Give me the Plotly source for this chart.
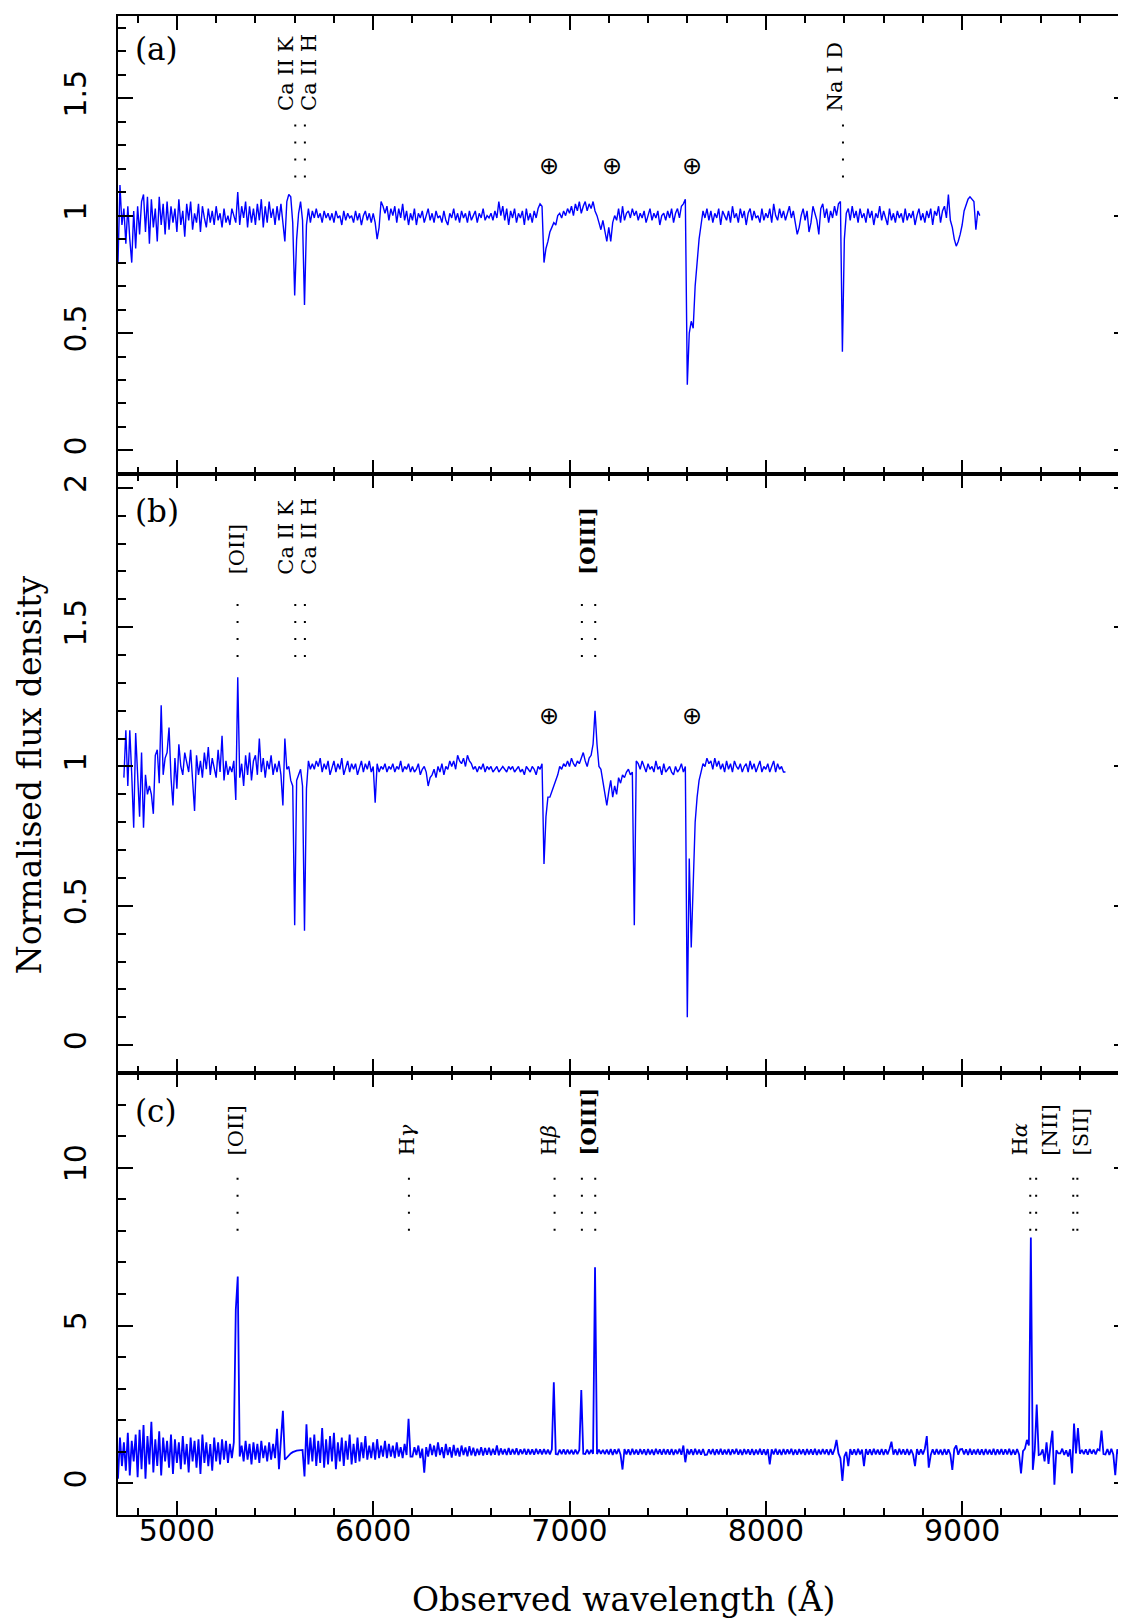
import numpy as np
import plotly.graph_objects as go

# ---------------- data ----------------
STEP = 10  # Angstrom sampling of the transcribed spectra

A_START = 4700
flux_a = [
    0.80, 1.13, 0.96, 1.03, 0.88, 1.04, 0.90, 0.80, 1.02, 0.86,
    1.04, 0.92, 1.06, 1.09, 0.93, 1.08, 0.88, 1.07, 0.95, 1.03,
    0.89, 1.08, 0.96, 1.05, 0.92, 1.06, 0.94, 1.04, 0.97, 1.03,
    0.93, 1.07, 0.96, 1.02, 0.91, 1.05, 0.98, 1.06, 0.94, 1.01,
    0.97, 1.05, 0.93, 1.04, 0.99, 0.95, 1.03, 0.97, 1.02, 0.96,
    1.04, 0.98, 1.01, 0.95, 1.03, 0.97, 1.00, 0.96, 1.03, 1.00,
    0.97, 1.10, 0.96, 1.04, 0.99, 1.06, 0.95, 1.04, 0.97, 1.03,
    0.96, 1.05, 0.98, 1.07, 0.95, 1.04, 0.97, 1.06, 0.99, 1.03,
    0.96, 1.04, 0.98, 1.05, 0.97, 0.89, 1.06, 1.09, 1.08, 0.97,
    0.66, 0.90, 1.01, 1.06, 0.98, 0.62, 0.96, 1.03, 0.97, 1.02,
    0.99, 1.03, 0.99, 1.01, 0.97, 1.02, 0.99, 1.01, 0.98, 1.01,
    0.97, 1.02, 0.99, 1.00, 0.96, 1.02, 0.98, 1.01, 0.99, 1.00,
    0.97, 1.02, 0.98, 1.01, 0.96, 1.00, 1.02, 0.98, 1.01, 0.97,
    1.01, 0.97, 0.90, 0.95, 1.06, 1.04, 1.01, 1.04, 0.98, 1.03,
    1.00, 1.04, 0.97, 1.03, 0.99, 1.05, 0.98, 1.02, 0.96, 1.01,
    0.98, 1.03, 0.96, 1.01, 0.99, 1.02, 0.97, 1.00, 1.03, 0.98,
    1.01, 0.97, 1.02, 0.99, 1.00, 0.97, 1.02, 0.98, 0.96, 1.01,
    0.99, 1.03, 0.98, 1.01, 0.97, 1.02, 0.99, 1.01, 0.97, 1.02,
    0.98, 1.00, 1.02, 0.97, 1.01, 0.99, 1.03, 0.98, 1.00, 0.99,
    1.01, 0.98, 1.02, 0.99, 1.06, 1.00, 1.04, 0.98, 1.03, 0.96,
    1.02, 0.99, 1.03, 0.97, 1.01, 0.99, 1.02, 0.96, 1.03, 0.98,
    1.01, 0.97, 1.02, 0.99, 1.03, 1.05, 1.04, 0.80, 0.86, 0.89,
    0.93, 0.95, 0.97, 0.96, 1.00, 1.01, 0.99, 1.02, 1.00, 1.03,
    1.01, 1.04, 1.00, 1.05, 1.02, 1.06, 1.01, 1.04, 1.06, 1.02,
    1.05, 1.03, 1.06, 1.02, 1.00, 0.97, 0.94, 0.98, 0.93, 0.89,
    0.95, 0.89, 0.97, 1.00, 0.98, 1.03, 0.97, 1.04, 0.98, 1.01,
    1.02, 0.99, 1.03, 1.00, 1.02, 0.98, 1.01, 0.99, 1.02, 0.97,
    1.00, 1.03, 0.98, 1.01, 0.99, 1.02, 0.96, 1.00, 1.01, 0.98,
    1.02, 0.99, 1.03, 0.97, 1.01, 1.03, 0.99, 1.04, 1.05, 1.07,
    0.28, 0.50, 0.55, 0.52, 0.70, 0.82, 0.90, 0.96, 1.02, 0.99,
    1.03, 0.98, 1.02, 0.97, 1.01, 0.99, 1.03, 0.96, 1.02, 1.00,
    0.98, 1.02, 0.97, 1.04, 0.99, 1.01, 0.97, 1.03, 0.99, 1.02,
    0.96, 1.01, 1.03, 0.98, 1.02, 0.99, 1.00, 0.97, 1.03, 0.98,
    1.01, 0.99, 1.03, 0.97, 1.05, 1.00, 0.98, 1.03, 0.99, 1.02,
    0.98, 1.01, 1.04, 0.99, 1.02, 0.97, 0.92, 0.95, 1.00, 1.03,
    0.98, 1.02, 0.93, 0.97, 1.04, 1.01, 0.98, 0.92, 1.03, 1.05,
    0.99, 1.03, 0.97, 1.02, 0.99, 1.04, 1.00, 1.05, 1.06, 0.42,
    0.90, 1.01, 1.03, 0.98, 1.04, 0.99, 1.02, 0.97, 1.03, 0.99,
    1.01, 0.97, 1.03, 0.99, 1.02, 0.96, 1.01, 0.99, 1.04, 0.98,
    1.02, 0.99, 0.96, 1.03, 0.98, 1.01, 0.97, 1.02, 0.99, 1.01,
    0.97, 1.03, 0.98, 1.01, 0.99, 1.02, 0.96, 1.00, 1.03, 0.98,
    1.01, 0.97, 1.02, 0.99, 1.03, 0.96, 1.02, 1.00, 1.04, 0.97,
    1.02, 1.04, 0.99, 1.09, 0.98, 0.95, 0.90, 0.87, 0.89, 0.92,
    0.96, 1.02, 1.05, 1.07, 1.08, 1.07, 1.06, 0.94, 1.02, 1.00,
]

B_START = 4730
flux_b = [
    0.96, 1.13, 0.93, 1.13, 0.97, 0.78, 1.12,
    0.95, 0.82, 1.05, 0.78, 0.97, 0.90, 0.93, 0.90, 0.83, 1.04,
    1.06, 0.94, 1.22, 0.97, 1.03, 1.05, 1.14, 0.96, 0.86, 1.03,
    0.92, 1.08, 1.00, 0.97, 1.05, 1.01, 0.98, 1.06, 0.95, 0.84,
    1.04, 0.97, 1.02, 0.96, 1.05, 0.99, 1.07, 0.97, 1.03, 1.00,
    0.96, 1.06, 0.98, 1.11, 0.95, 1.02, 0.97, 1.00, 0.98, 1.02,
    0.88, 1.32, 0.96, 1.01, 0.93, 1.04, 0.97, 1.05, 0.95, 1.02,
    1.04, 0.97, 1.10, 0.98, 1.03, 0.96, 1.02, 0.99, 1.04, 0.97,
    1.01, 0.98, 1.02, 0.97, 0.86, 1.10, 0.99, 1.00, 0.95, 0.93,
    0.43, 0.95, 0.97, 0.99, 0.93, 0.41, 0.92, 1.02, 0.99, 1.01,
    0.99, 1.02, 1.00, 1.03, 0.98, 1.01, 0.99, 1.02, 0.97, 1.00,
    1.02, 0.98, 1.01, 0.99, 1.03, 0.97, 1.00, 1.02, 0.98, 1.01,
    0.99, 1.01, 0.97, 1.00, 1.02, 0.98, 1.01, 0.99, 1.02, 0.98,
    1.00, 0.87, 1.01, 0.98, 1.00, 0.99, 1.01, 0.98, 1.00, 0.99,
    1.01, 0.98, 1.00, 0.99, 1.02, 0.98, 1.00, 0.99, 1.01, 0.98,
    1.00, 0.98, 0.99, 1.01, 0.97, 0.99, 1.00, 0.98, 0.93, 0.96,
    0.97, 0.99, 0.96, 1.00, 0.98, 1.01, 0.97, 1.00, 0.99, 1.02,
    1.00, 1.02, 0.99, 1.04, 1.02, 1.01, 1.03, 1.00, 1.04, 1.02,
    1.01, 0.99, 1.00, 0.98, 1.00, 0.99, 1.01, 0.98, 1.00, 0.99,
    1.00, 0.98, 0.99, 1.00, 0.98, 0.99, 1.00, 0.99, 0.98, 1.00,
    0.99, 1.00, 0.98, 0.99, 1.00, 0.98, 0.99, 0.97, 1.00, 0.99,
    0.98, 1.00, 0.99, 0.97, 1.00, 0.99, 1.01, 0.65, 0.82, 0.89,
    0.89, 0.91, 0.93, 0.95, 0.97, 1.00, 0.99, 1.01, 1.00, 1.02,
    1.00, 1.03, 1.01, 1.00, 1.02, 1.01, 1.03, 1.05, 1.02, 1.00,
    1.03, 1.04, 1.08, 1.20, 1.08, 1.00, 0.99, 0.95, 0.90, 0.86,
    0.91, 0.95, 0.89, 0.93, 0.90, 0.96, 0.94, 0.97, 0.96, 0.98,
    0.99, 0.97, 0.98, 0.43, 1.02, 1.01, 0.99, 1.02, 1.00, 0.98,
    1.01, 0.99, 1.00, 0.98, 1.02, 0.99, 1.00, 0.97, 1.01, 0.98,
    0.99, 1.00, 0.98, 0.97, 1.00, 0.98, 0.99, 1.01, 0.98, 1.00,
    0.10, 0.67, 0.35, 0.60, 0.80, 0.89, 0.95, 0.98, 1.01, 1.00,
    1.03, 1.01, 1.02, 0.99, 1.03, 1.00, 1.02, 0.99, 1.01, 0.98,
    1.02, 0.99, 1.01, 0.98, 1.02, 1.00, 0.99, 1.01, 0.98, 1.00,
    1.01, 0.98, 1.02, 0.99, 1.01, 0.98, 1.00, 1.02, 0.98, 1.00,
    0.99, 1.01, 0.98, 1.00, 1.02, 0.98, 1.01, 0.99, 1.00, 0.98,
    0.98,
]

C_START = 4700
flux_c = [
    0.15, 1.45, 0.55, 1.30, 0.40, 1.60, 0.25, 1.35, 0.70, 1.55,
    0.20, 1.70, 0.45, 1.85, 0.15, 1.50, 0.60, 1.95, 0.35, 1.40,
    0.55, 1.65, 0.25, 1.45, 0.70, 1.35, 0.50, 1.55, 0.30, 1.40,
    0.65, 1.30, 0.45, 1.50, 0.60, 1.25, 0.35, 1.45, 0.70, 1.35,
    0.50, 1.40, 0.30, 1.55, 0.65, 1.30, 0.55, 1.25, 0.40, 1.45,
    0.70, 1.30, 0.60, 1.40, 0.75, 1.35, 0.65, 1.25, 0.80, 1.30,
    5.50, 6.55, 0.85, 1.20, 0.70, 1.35, 0.75, 1.25, 0.60, 1.30,
    0.75, 1.25, 0.65, 1.35, 0.80, 1.20, 0.70, 1.30, 0.75, 1.25,
    0.80, 1.73, 0.45, 1.30, 2.30, 0.75, 0.82, 0.90, 0.95, 0.99,
    1.02, 1.04, 1.05, 1.06, 1.06, 0.22, 1.87, 0.60, 1.45, 0.70,
    1.55, 0.55, 1.35, 0.65, 1.75, 0.50, 1.40, 0.60, 1.50, 0.70,
    1.60, 0.45, 1.30, 0.70, 1.45, 0.55, 1.35, 0.75, 1.55, 0.60,
    1.25, 0.65, 1.45, 0.70, 1.30, 0.80, 1.50, 0.75, 1.20, 0.80,
    1.30, 0.75, 1.40, 0.80, 1.20, 0.85, 1.35, 0.80, 1.25, 0.85,
    1.20, 0.80, 1.30, 0.85, 1.15, 0.80, 1.25, 0.90, 2.05, 0.85,
    0.85, 1.15, 0.90, 1.20, 0.80, 1.10, 0.34, 1.15, 0.85, 1.25,
    0.90, 1.20, 0.85, 1.30, 0.90, 1.15, 0.80, 1.25, 0.90, 1.15,
    0.82, 1.22, 0.88, 1.12, 0.85, 1.20, 0.90, 1.14, 0.86, 1.18,
    0.89, 1.13, 0.87, 1.10, 0.90, 1.15, 0.88, 1.12, 0.91, 1.13,
    0.89, 1.10, 0.91, 1.20, 0.89, 1.11, 0.92, 1.09, 0.90, 1.12,
    0.91, 1.09, 0.92, 1.11, 0.90, 1.08, 0.93, 1.10, 0.91, 1.09,
    0.92, 1.08, 0.91, 1.10, 0.93, 1.08, 0.92, 1.09, 0.93, 1.07,
    0.92, 1.08, 3.20, 0.93, 0.92, 1.07, 0.93, 1.08, 0.92, 1.07,
    0.93, 1.06, 0.92, 1.07, 0.93, 1.06, 2.96, 0.94, 0.93, 1.07,
    0.93, 1.06, 0.94, 6.85, 0.93, 1.07, 0.94, 1.06, 0.93, 1.07,
    0.92, 1.09, 0.90, 1.08, 0.93, 1.10, 0.91, 0.44, 1.09, 0.92,
    1.08, 0.90, 1.10, 0.92, 1.07, 0.91, 1.09, 0.93, 1.08, 0.90,
    1.09, 0.92, 1.07, 0.90, 1.10, 0.93, 1.08, 0.91, 1.09, 0.92,
    1.08, 0.91, 1.09, 0.90, 1.07, 0.93, 1.10, 0.91, 1.20, 0.67,
    1.09, 0.92, 1.08, 0.90, 1.10, 0.92, 1.07, 0.91, 1.09, 0.90,
    0.91, 1.08, 0.93, 1.09, 0.90, 1.08, 0.92, 1.10, 0.91, 1.07,
    0.92, 1.09, 0.90, 1.08, 0.93, 1.10, 0.91, 1.07, 0.90, 1.09,
    0.93, 1.08, 0.91, 1.09, 0.90, 1.07, 0.92, 1.10, 0.91, 1.08,
    0.90, 1.09, 0.60, 1.08, 0.92, 1.10, 0.91, 1.07, 0.90, 1.09,
    0.92, 1.08, 0.93, 1.10, 0.90, 1.07, 0.91, 1.09, 0.93, 1.08,
    0.90, 1.09, 0.92, 1.08, 0.91, 1.10, 0.90, 1.07, 0.92, 1.09,
    0.93, 1.08, 0.90, 1.09, 0.91, 1.08, 1.38, 0.95, 0.80, 0.08,
    0.85, 1.00, 0.55, 1.09, 0.91, 1.08, 0.90, 1.10, 0.92, 1.07,
    0.55, 1.09, 0.91, 1.08, 0.90, 1.10, 0.92, 1.07, 0.91, 1.09,
    0.90, 1.08, 0.92, 1.09, 1.32, 0.91, 1.08, 0.90, 1.10, 0.92,
    1.08, 0.91, 1.09, 0.90, 1.07, 0.92, 0.55, 1.09, 0.91, 1.08,
    0.92, 1.10, 1.50, 0.50, 0.90, 1.08, 0.91, 1.09, 0.92, 1.07,
    0.90, 1.09, 0.91, 1.08, 0.92, 0.43, 1.09, 1.20, 0.91, 1.08,
    1.09, 0.92, 1.08, 0.90, 1.10, 0.91, 1.07, 0.92, 1.09, 0.91,
    1.08, 0.90, 1.09, 0.92, 1.07, 0.91, 1.10, 0.90, 1.08, 0.92,
    1.09, 0.91, 1.08, 0.92, 1.10, 0.90, 1.07, 0.91, 1.09, 0.92,
    0.32, 1.02, 1.10, 1.38, 1.20, 7.79, 0.43, 1.05, 2.50, 0.90,
    0.92, 1.08, 0.70, 1.30, 0.62, 1.20, 1.67, -0.04, 1.05, 0.95,
    0.95, 1.10, 0.90, 1.05, 0.85, 1.08, 0.32, 1.90, 0.95, 1.75,
    0.94, 1.06, 0.93, 1.08, 0.91, 1.09, 0.94, 1.07, 0.92, 1.08,
    1.05, 1.67, 0.93, 0.92, 1.09, 0.90, 1.10, 0.92, 0.26, 1.08,
    0.91, 1.10, 0.92, 1.08, 0.93, 1.07,
]

# spectral-line identifications: (label, label-centre wavelength), and dotted-marker wavelengths
labels_a = [("Ca II K", 5558), ("Ca II H", 5675), ("Na I D", 8357)]
markers_a = [5603, 5652, 8393]
telluric_a = [6894, 7214, 7623]

labels_b = [("[OII]", 5304), ("Ca II K", 5558), ("Ca II H", 5675), ("<b>[OIII]</b>", 7094)]
markers_b = [5309, 5603, 5652, 7063, 7131]
telluric_b = [6894, 7623]

labels_c = [("[OII]", 5299), ("H<i>γ</i>", 6173), ("H<i>β</i>", 6894), ("<b>[OIII]</b>", 7097),
            ("H<i>α</i>", 9296), ("[NII]", 9449), ("[SII]", 9606)]
markers_c = [5309, 6182, 6924, 7063, 7131, 9347, 9377, 9566, 9587]

y_ranges = [[-0.1, 1.85], [-0.1, 2.05], [-1.0, 13.0]]
y_dtick = [0.5, 0.5, 5]
y_minor = [0.1, 0.1, 1]
x_range = [4700, 9850]

# ---------------- figure ----------------
W, H = 1126, 1621
ML, MR, MT, MB = 110, 3, 8, 114
PLOT_H = H - MT - MB
dom_c = [0.0, 0.2949]
dom_b = [0.2949, 0.6945]
dom_a = [0.6945, 1.0]

BLUE = "#0000ff"
fig = go.Figure()
for arr, start, ax, lw in [(flux_a, A_START, "1", 1.4), (flux_b, B_START, "2", 1.4),
                           (flux_c, C_START, "3", 1.8)]:
    wl = start + STEP * np.arange(len(arr))
    fig.add_trace(go.Scatter(
        x=wl, y=arr, mode="lines", line=dict(color=BLUE, width=lw),
        xaxis="x" if ax == "1" else "x" + ax, yaxis="y" if ax == "1" else "y" + ax,
        hoverinfo="skip", showlegend=False))

TICKFONT = dict(family="DejaVu Sans", size=30, color="black")
common = dict(showline=True, linewidth=1.6, linecolor="black", mirror="allticks",
              ticks="inside", tickwidth=1.5, tickcolor="black", showgrid=False, zeroline=False,
              tickfont=TICKFONT)


def xax(anchor, labels):
    return dict(common, range=x_range, domain=[0, 1], anchor=anchor, dtick=1000, tick0=0,
                ticklen=14, showticklabels=labels, ticklabelstandoff=-12, tickformat="d",
                minor=dict(ticks="inside", ticklen=7, dtick=200, tick0=0, tickwidth=1.5,
                           tickcolor="black", showgrid=False))


def yax(anchor, dom, i):
    return dict(common, range=y_ranges[i], domain=dom, anchor=anchor, dtick=y_dtick[i], tick0=0,
                ticklen=15, tickangle=-90, ticklabelstandoff=18,
                minor=dict(ticks="inside", ticklen=8, dtick=y_minor[i], tick0=0, tickwidth=1.5,
                           tickcolor="black", showgrid=False))


fig.update_layout(
    width=W, height=H, margin=dict(l=ML, r=MR, t=MT, b=MB),
    paper_bgcolor="white", plot_bgcolor="white", showlegend=False,
    xaxis=xax("y", False), xaxis2=xax("y2", False), xaxis3=xax("y3", True),
    yaxis=yax("x", dom_a, 0), yaxis2=yax("x2", dom_b, 1), yaxis3=yax("x3", dom_c, 2),
)

LABFONT = dict(family="DejaVu Serif", size=21, color="black")
annotations = []
shapes = []

panels = [
    ("x", "y", labels_a, markers_a, telluric_a, (1.388, 1.139), 1.437, 1.212, "(a)", 0.928),
    ("x2", "y2", labels_b, markers_b, telluric_b, (1.583, 1.380), 1.681, 1.181, "(b)", 0.9385),
    ("x3", "y3", labels_c, markers_c, [], (9.68, 7.85), 10.31, None, "(c)", 0.913),
]
for xr, yr, labs, marks, tell, (dtop, dbot), ylab, ytell, tag, ytag in panels:
    for wl in marks:
        shapes.append(dict(type="line", xref=xr, yref=yr, x0=wl, x1=wl, y0=dtop, y1=dbot,
                           line=dict(color="black", width=2, dash="2px,15px")))
    for txt, wl in labs:
        annotations.append(dict(xref=xr, yref=yr, x=wl, y=ylab, text=txt, showarrow=False,
                                textangle=-90, xanchor="center", yanchor="bottom", font=LABFONT))
    for wl in tell:
        annotations.append(dict(xref=xr, yref=yr, x=wl, y=ytell, text="⊕", showarrow=False,
                                xanchor="center", yanchor="middle",
                                font=dict(family="DejaVu Sans", size=24, color="black")))
    annotations.append(dict(xref=xr + " domain", yref=yr + " domain", x=0.015, y=ytag, text=tag,
                            showarrow=False, xanchor="left", yanchor="middle",
                            font=dict(family="DejaVu Serif", size=31, color="black")))

TITLEFONT = dict(family="DejaVu Serif", size=33, color="black")
annotations.append(dict(xref="paper", yref="paper", x=0.5, y=-(1613 - (H - MB)) / PLOT_H,
                        text="Observed wavelength (Å)", showarrow=False,
                        xanchor="center", yanchor="bottom", font=TITLEFONT))
annotations.append(dict(xref="paper", yref="paper", x=(21 - ML) / (W - ML - MR),
                        y=((H - MB) - 767) / PLOT_H,
                        text="Normalised flux density", showarrow=False, textangle=-90,
                        xanchor="center", yanchor="middle", font=TITLEFONT))

fig.update_layout(annotations=annotations, shapes=shapes)
fig.write_html("out.html")
